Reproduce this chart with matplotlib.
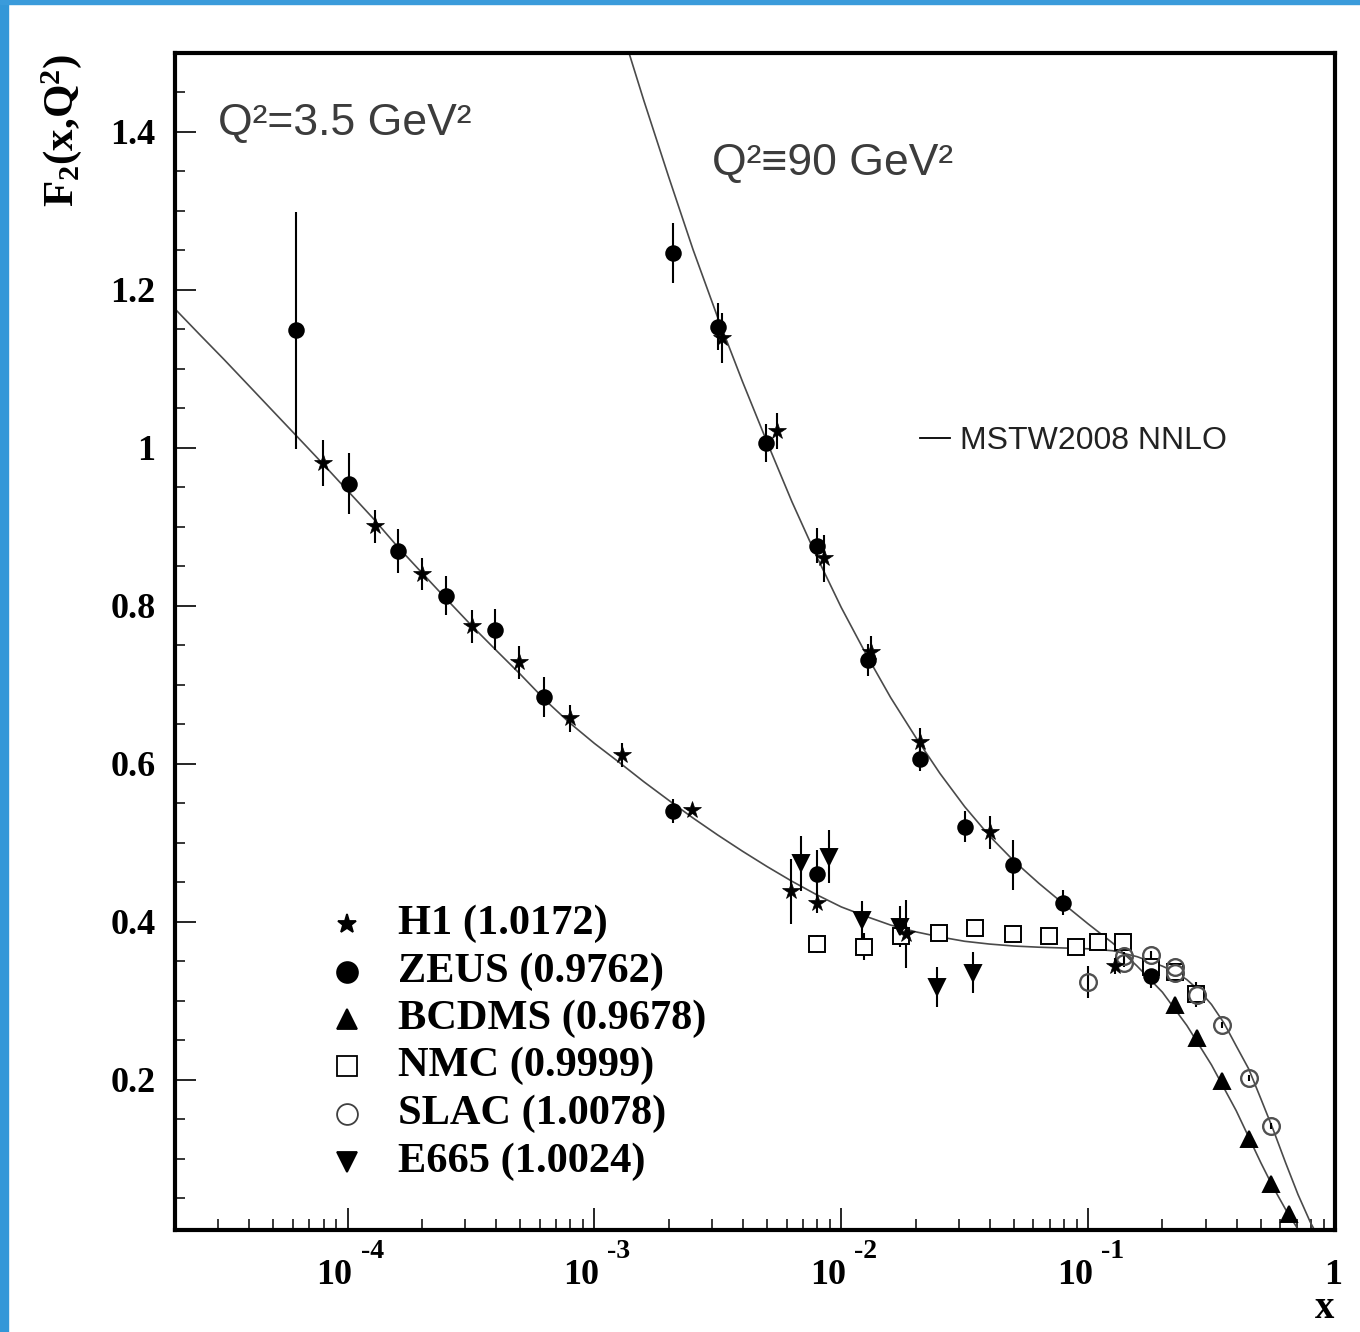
import numpy as np
import matplotlib
matplotlib.use('Agg')
import matplotlib.pyplot as plt
from matplotlib.patches import Rectangle
from matplotlib.ticker import FixedLocator, LogLocator, NullFormatter, MultipleLocator
from matplotlib.transforms import blended_transform_factory, offset_copy

plt.rcParams['mathtext.fontset'] = 'custom'
plt.rcParams['mathtext.rm'] = 'Liberation Serif:bold'
plt.rcParams['mathtext.bf'] = 'Liberation Serif:bold'
plt.rcParams['mathtext.it'] = 'Liberation Serif:bold'

# ---------------- data ----------------
# MSTW2008 NNLO curve, Q^2 = 3.5 GeV^2
curve_lo_x = [2.0e-5, 2.51e-5, 3.16e-5, 3.98e-5, 5.01e-5, 6.31e-5, 7.94e-5, 1.0e-4,
              1.26e-4, 1.585e-4, 2.0e-4, 2.51e-4, 3.16e-4, 3.98e-4, 5.01e-4, 6.31e-4,
              7.94e-4, 1.0e-3, 1.26e-3, 1.585e-3, 2.0e-3, 2.51e-3, 3.16e-3, 3.98e-3,
              5.01e-3, 6.31e-3, 7.94e-3, 1.0e-2, 1.26e-2, 1.585e-2, 2.0e-2, 2.51e-2,
              3.16e-2, 3.98e-2, 5.01e-2, 6.31e-2, 7.94e-2, 0.100, 0.126, 0.158,
              0.200, 0.224, 0.251, 0.282, 0.316, 0.355, 0.398, 0.447, 0.501, 0.562,
              0.631, 0.708, 0.794, 0.832]
curve_lo_y = [1.176, 1.144, 1.112, 1.079, 1.046, 1.013, 0.980, 0.946,
              0.912, 0.876, 0.842, 0.809, 0.776, 0.7445, 0.7135, 0.681,
              0.652, 0.626, 0.602, 0.5775, 0.554, 0.5315, 0.510, 0.4895,
              0.470, 0.4515, 0.4345, 0.419, 0.407, 0.396, 0.3875, 0.381,
              0.3755, 0.372, 0.3695, 0.368, 0.367, 0.366, 0.3635, 0.356,
              0.344, 0.337, 0.327, 0.313, 0.2955, 0.272, 0.243, 0.214, 0.176, 0.137,
              0.095, 0.055, 0.020, 0.008]
# MSTW2008 NNLO curve, Q^2 = 90 GeV^2
curve_hi_x = [1.26e-3, 1.585e-3, 2.0e-3, 2.51e-3, 3.16e-3, 3.98e-3, 5.01e-3, 6.31e-3,
              7.94e-3, 1.0e-2, 1.26e-2, 1.585e-2, 2.0e-2, 2.51e-2, 3.16e-2, 3.98e-2,
              5.01e-2, 6.31e-2, 7.94e-2, 0.100, 0.126, 0.158, 0.200, 0.251,
              0.316, 0.398, 0.501, 0.562, 0.631, 0.708, 0.741]
curve_hi_y = [1.54, 1.440, 1.343, 1.251, 1.165, 1.084, 1.007, 0.932,
              0.863, 0.798, 0.739, 0.684, 0.634, 0.588, 0.546, 0.509,
              0.477, 0.449, 0.423, 0.3975, 0.373, 0.344, 0.311, 0.269,
              0.219, 0.161, 0.095, 0.064, 0.036, 0.011, 0.002]

# H1
h1_x = [7.94e-5, 1.295e-4, 2.0e-4, 3.19e-4, 4.94e-4, 7.94e-4, 1.29e-3, 2.48e-3,
        6.24e-3, 7.98e-3, 1.826e-2,
        3.29e-3, 5.51e-3, 8.49e-3, 1.317e-2, 2.08e-2, 4.02e-2, 0.129]
h1_y = [0.981, 0.901, 0.8405, 0.774, 0.7287, 0.658, 0.611, 0.542,
        0.439, 0.4244, 0.3848,
        1.139, 1.0215, 0.8604, 0.742, 0.6275, 0.5135, 0.3443]
h1_e = [0.029, 0.021, 0.020, 0.021, 0.021, 0.017, 0.015, 0.006,
        0.041, 0.013, 0.043,
        0.032, 0.023, 0.030, 0.020, 0.018, 0.021, 0.010]
# ZEUS
zeus_x = [6.21e-5, 1.012e-4, 1.605e-4, 2.50e-4, 3.97e-4, 6.27e-4, 2.08e-3, 7.98e-3,
          2.08e-3, 3.17e-3, 4.97e-3, 7.98e-3, 1.284e-2, 2.08e-2, 3.17e-2, 4.97e-2,
          7.92e-2, 0.179]
zeus_y = [1.149, 0.955, 0.870, 0.813, 0.770, 0.685, 0.5405, 0.461,
          1.247, 1.1535, 1.0067, 0.8763, 0.7316, 0.606, 0.5207, 0.472,
          0.4245, 0.331]
zeus_e = [0.150, 0.039, 0.028, 0.025, 0.026, 0.025, 0.015, 0.030,
          0.038, 0.030, 0.024, 0.022, 0.020, 0.015, 0.020, 0.032,
          0.016, 0.015]
# BCDMS
bcdms_x = [0.225, 0.275, 0.35, 0.45, 0.55, 0.65]
bcdms_y = [0.295, 0.253, 0.199, 0.125, 0.068, 0.030]
bcdms_e = [0.004, 0.004, 0.004, 0.003, 0.003, 0.003]
# NMC
nmc_x = [7.98e-3, 1.237e-2, 1.738e-2, 2.49e-2, 3.475e-2, 4.97e-2, 6.93e-2, 8.92e-2,
         0.1096, 0.1387, 0.179, 0.2247, 0.2734]
nmc_y = [0.372, 0.3688, 0.3823, 0.3857, 0.392, 0.3844, 0.3823, 0.3688,
         0.375, 0.375, 0.3434, 0.337, 0.3085]
nmc_e = [0.011, 0.017, 0.010, 0.006, 0.006, 0.006, 0.006, 0.006,
         0.006, 0.006, 0.006, 0.006, 0.016]
# SLAC
slac_x = [0.10, 0.14, 0.14, 0.18, 0.225, 0.225, 0.275, 0.35, 0.45, 0.55]
slac_y = [0.3237, 0.357, 0.348, 0.358, 0.343, 0.335, 0.307, 0.2696, 0.2022, 0.1418]
slac_e = [0.020, 0.005, 0.005, 0.005, 0.005, 0.005, 0.005, 0.004, 0.004, 0.004]
# E665
e665_x = [6.90e-3, 8.90e-3, 1.214e-2, 1.726e-2, 2.438e-2, 3.41e-2]
e665_y = [0.4743, 0.4827, 0.4025, 0.394, 0.3177, 0.3354]
e665_e = [0.035, 0.034, 0.024, 0.026, 0.025, 0.026]

legend_labels = ['H1 (1.0172)', 'ZEUS (0.9762)', 'BCDMS (0.9678)',
                 'NMC (0.9999)', 'SLAC (1.0078)', 'E665 (1.0024)']
xtick_vals = [1e-4, 1e-3, 1e-2, 1e-1, 1]
xtick_exps = ['-4', '-3', '-2', '-1']
ytick_vals = [0.2, 0.4, 0.6, 0.8, 1.0, 1.2, 1.4]
ytick_labels = ['0.2', '0.4', '0.6', '0.8', '1', '1.2', '1.4']

# ---------------- figure ----------------
W, H = 1360, 1332
fig = plt.figure(figsize=(W / 100, H / 100), dpi=100)
fig.patch.set_facecolor('white')
fig.add_artist(Rectangle((0, 0), 8 / W, 1, transform=fig.transFigure,
                         color='#3397d8', zorder=0))
fig.add_artist(Rectangle((0, 1 - 4 / H), 1, 4 / H, transform=fig.transFigure,
                         color='#3a9bdb', zorder=0))

ax = fig.add_axes([175 / W, (H - 1230) / H, 1160 / W, 1177 / H])
ax.set_xscale('log')
ax.set_xlim(2e-5, 1)
ax.set_ylim(0.01, 1.5)

lc = '#4a4a4a'
ax.plot(curve_lo_x, curve_lo_y, color=lc, lw=1.2, zorder=2)
ax.plot(curve_hi_x, curve_hi_y, color=lc, lw=1.2, zorder=2)

def series(x, y, e, marker, ms, fc, ec, mew=1.4):
    ax.errorbar(x, y, yerr=e, fmt='none', ecolor='black', elinewidth=1.5,
                capsize=0, zorder=3)
    ax.plot(x, y, ls='none', marker=marker, ms=ms, mfc=fc, mec=ec, mew=mew,
            zorder=4)

series(nmc_x, nmc_y, nmc_e, 's', 11, 'white', 'black')
series(slac_x, slac_y, slac_e, 'o', 12, 'none', '#505050', 1.7)
series(e665_x, e665_y, e665_e, 'v', 12, 'black', 'black')
series(bcdms_x, bcdms_y, bcdms_e, '^', 12, 'black', 'black')
series(zeus_x, zeus_y, zeus_e, 'o', 10.5, 'black', 'black')
series(h1_x, h1_y, h1_e, '*', 13, 'black', 'black', 0.5)

# ticks
for s in ax.spines.values():
    s.set_linewidth(3.0)
ax.xaxis.set_major_locator(FixedLocator(xtick_vals))
ax.xaxis.set_major_formatter(NullFormatter())
ax.xaxis.set_minor_locator(LogLocator(base=10, subs=np.arange(2, 10), numticks=20))
ax.xaxis.set_minor_formatter(NullFormatter())
ax.yaxis.set_major_locator(FixedLocator(ytick_vals))
ax.set_yticklabels(ytick_labels, fontfamily='Liberation Serif', fontweight='bold',
                   fontsize=26)
ax.yaxis.set_minor_locator(MultipleLocator(0.05))
ax.tick_params(axis='both', which='major', direction='in', width=1.2, color='black')
ax.tick_params(axis='both', which='minor', direction='in', width=1.1, color='black')
ax.tick_params(axis='x', which='major', length=16)
ax.tick_params(axis='x', which='minor', length=8)
ax.tick_params(axis='y', which='major', length=15, pad=14)
ax.tick_params(axis='y', which='minor', length=7)
ax.tick_params(top=False, right=False, which='both')

# x tick labels: "10" with a raised exponent
btr = blended_transform_factory(ax.transData, ax.transAxes)
for xv, ex in zip(xtick_vals[:-1], xtick_exps):
    t10 = offset_copy(btr, fig=fig, x=-13, y=-46, units='dots')
    ax.text(xv, 0, '10', transform=t10, ha='center', va='center',
            fontfamily='Liberation Serif', fontweight='bold', fontsize=26,
            clip_on=False)
    tex = offset_copy(btr, fig=fig, x=13, y=-22, units='dots')
    ax.text(xv, 0, ex, transform=tex, ha='left', va='center',
            fontfamily='Liberation Serif', fontweight='bold', fontsize=20,
            clip_on=False)
t1 = offset_copy(btr, fig=fig, x=-2, y=-46, units='dots')
ax.text(xtick_vals[-1], 0, '1', transform=t1, ha='center', va='center',
        fontfamily='Liberation Serif', fontweight='bold', fontsize=26, clip_on=False)

# axis titles
fig.text(62 / W, 1 - 130 / H, r'$\mathbf{F_2(x{,}Q^2)}$', rotation=90,
         ha='center', va='center', fontsize=31)
fig.text(1325 / W, 1 - 1308 / H, 'x', ha='center', va='center',
         fontfamily='Liberation Serif', fontweight='bold', fontsize=28)

# annotations
tc = '#3c3c3c'
ax.text(0.0371, 0.930, 'Q²=3.5 GeV²', transform=ax.transAxes, ha='left',
        va='baseline', fontfamily='Liberation Sans', fontsize=32, color=tc)
ax.text(0.4629, 0.8963, 'Q²≡90 GeV²', transform=ax.transAxes, ha='left',
        va='baseline', fontfamily=['Liberation Sans', 'DejaVu Sans'], fontsize=32,
        color=tc)
ax.plot([0.6422, 0.6681], [0.6729, 0.6729], transform=ax.transAxes,
        color='black', lw=1.3)
ax.text(0.6767, 0.6636, 'MSTW2008 NNLO', transform=ax.transAxes, ha='left',
        va='baseline', fontfamily='Liberation Sans', fontsize=23, color='#222222')

# legend (manual)
leg_markers = [('*', 14, 'black', 'black'), ('o', 15, 'black', 'black'),
               ('^', 14, 'black', 'black'), ('s', 15, 'white', 'black'),
               ('o', 15, 'white', '#404040'), ('v', 14, 'black', 'black')]
row_y = [0.2600, 0.2192, 0.1793, 0.1393, 0.0986, 0.0578]
for (m, ms, fc, ec), lab, yy in zip(leg_markers, legend_labels, row_y):
    ax.plot([0.1483], [yy], transform=ax.transAxes, marker=m, ms=ms, mfc=fc,
            mec=ec, mew=1.3, ls='none', clip_on=False, zorder=5)
    ax.text(0.1922, yy, lab, transform=ax.transAxes, ha='left', va='center',
            fontfamily='Liberation Serif', fontweight='bold', fontsize=30.5)

fig.savefig('out.png', dpi=100)
